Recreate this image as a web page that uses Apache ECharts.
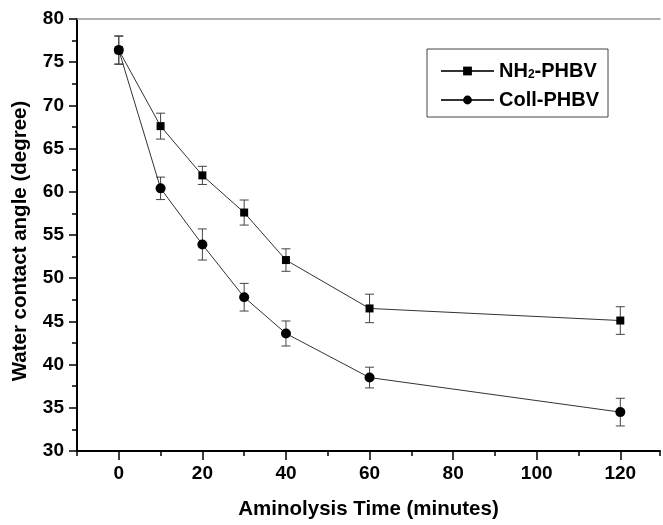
<!DOCTYPE html>
<html>
<head>
<meta charset="utf-8">
<script src="https://cdn.jsdelivr.net/npm/echarts@6/dist/echarts.min.js"></script>
<style>
html, body { margin: 0; padding: 0; background: #fff; }
#chart { width: 663px; height: 525px; }
</style>
</head>
<body>
<div id="chart"></div>
<script>
// aminolysis time (minutes)
var times = [0, 10, 20, 30, 40, 60, 120];
// water contact angle (degree)
var nh2Angle = [76.4, 67.6, 61.9, 57.6, 52.1, 46.5, 45.1];
var nh2Err = [1.65, 1.5, 1.05, 1.45, 1.3, 1.65, 1.6];
var collAngle = [76.4, 60.4, 53.9, 47.8, 43.6, 38.5, 34.5];
var collErr = [1.6, 1.3, 1.8, 1.6, 1.45, 1.2, 1.6];
var xMajorTicks = [0, 20, 40, 60, 80, 100, 120];

var font = "'Liberation Sans', Arial, sans-serif";

function points(ys) {
    return times.map(function (t, i) { return [t, ys[i]]; });
}
function withErr(ys, errs) {
    return times.map(function (t, i) { return [t, ys[i], errs[i]]; });
}

// vertical error bar with small caps
function errorBar(params, api) {
    var x = api.value(0), y = api.value(1), e = api.value(2);
    var hi = api.coord([x, y + e]);
    var lo = api.coord([x, y - e]);
    var w = 4.5;
    var st = { stroke: '#444', lineWidth: 1 };
    return {
        type: 'group',
        children: [
            { type: 'line', shape: { x1: hi[0], y1: hi[1], x2: lo[0], y2: lo[1] }, style: st },
            { type: 'line', shape: { x1: hi[0] - w, y1: hi[1], x2: hi[0] + w, y2: hi[1] }, style: st },
            { type: 'line', shape: { x1: lo[0] - w, y1: lo[1], x2: lo[0] + w, y2: lo[1] }, style: st }
        ]
    };
}

var chart = echarts.init(document.getElementById('chart'));
var option = {
    animation: false,
    backgroundColor: '#fff',
    grid: { left: 77, right: 0, top: 19, bottom: 67 },
    legend: {
        orient: 'vertical',
        left: 427,
        top: 49,
        padding: [6, 9, 7, 13],
        itemGap: 9,
        itemWidth: 53,
        itemHeight: 11,
        borderColor: '#444',
        borderWidth: 1,
        data: ['NH2-PHBV', 'Coll-PHBV'],
        formatter: function (name) {
            if (name === 'NH2-PHBV') return '{n|NH}{s|2}{n|-PHBV}';
            return '{n|' + name + '}';
        },
        textStyle: {
            rich: {
                n: { fontFamily: font, fontWeight: 'bold', fontSize: 20, color: '#000', lineHeight: 20 },
                s: { fontFamily: font, fontWeight: 'bold', fontSize: 12, color: '#000', verticalAlign: 'bottom', lineHeight: 12, padding: [14, 0, 0, 0] }
            }
        }
    },
    xAxis: [
        {
            type: 'value',
            position: 'bottom',
            min: -10,
            max: 129.5,
            interval: 10,
            name: 'Aminolysis Time (minutes)',
            nameLocation: 'middle',
            nameGap: 48,
            nameTextStyle: { fontFamily: font, fontWeight: 'bold', fontSize: 20.5, color: '#000' },
            axisLine: { show: true, onZero: false, lineStyle: { color: '#000', width: 2 } },
            axisTick: { show: true, inside: false, length: 5, lineStyle: { color: '#000', width: 1.5 } },
            axisLabel: {
                margin: 13,
                fontFamily: font, fontWeight: 'bold', fontSize: 19, color: '#000',
                formatter: function (v) { return xMajorTicks.indexOf(v) >= 0 ? String(v) : ''; }
            },
            splitLine: { show: false }
        },
        {
            type: 'value',
            position: 'bottom',
            min: -10,
            max: 129.5,
            axisLine: { show: false, onZero: false },
            axisTick: { show: true, inside: false, length: 9, customValues: xMajorTicks, lineStyle: { color: '#000', width: 1.5 } },
            axisLabel: { show: false },
            splitLine: { show: false }
        },
        {
            type: 'value',
            position: 'top',
            min: -10,
            max: 129.5,
            axisLine: { show: true, onZero: false, lineStyle: { color: '#999', width: 1.5 } },
            axisTick: { show: false },
            axisLabel: { show: false },
            splitLine: { show: false }
        }
    ],
    yAxis: {
        type: 'value',
        min: 30,
        max: 80,
        interval: 5,
        name: 'Water contact angle (degree)',
        nameLocation: 'middle',
        nameGap: 46,
        nameTextStyle: { fontFamily: font, fontWeight: 'bold', fontSize: 20.5, color: '#000', padding: [0, 12, 0, 0] },
        axisLine: { show: true, onZero: false, lineStyle: { color: '#000', width: 2 } },
        axisTick: { show: true, inside: false, length: 8, lineStyle: { color: '#000', width: 1.5 } },
        minorTick: { show: true, splitNumber: 2, length: 5, lineStyle: { color: '#000', width: 1.5 } },
        axisLabel: { margin: 13, fontFamily: font, fontWeight: 'bold', fontSize: 19, color: '#000' },
        splitLine: { show: false }
    },
    series: [
        {
            type: 'custom',
            renderItem: errorBar,
            data: withErr(nh2Angle, nh2Err),
            z: 1,
            silent: true
        },
        {
            type: 'custom',
            renderItem: errorBar,
            data: withErr(collAngle, collErr),
            z: 1,
            silent: true
        },
        {
            name: 'NH2-PHBV',
            type: 'line',
            data: points(nh2Angle),
            symbol: 'rect',
            symbolSize: 8,
            itemStyle: { color: '#000' },
            lineStyle: { color: '#333', width: 1 },
            z: 3
        },
        {
            name: 'Coll-PHBV',
            type: 'line',
            data: points(collAngle),
            symbol: 'circle',
            symbolSize: 10,
            itemStyle: { color: '#000' },
            lineStyle: { color: '#333', width: 1 },
            z: 3
        }
    ]
};
chart.setOption(option);
</script>
</body>
</html>
